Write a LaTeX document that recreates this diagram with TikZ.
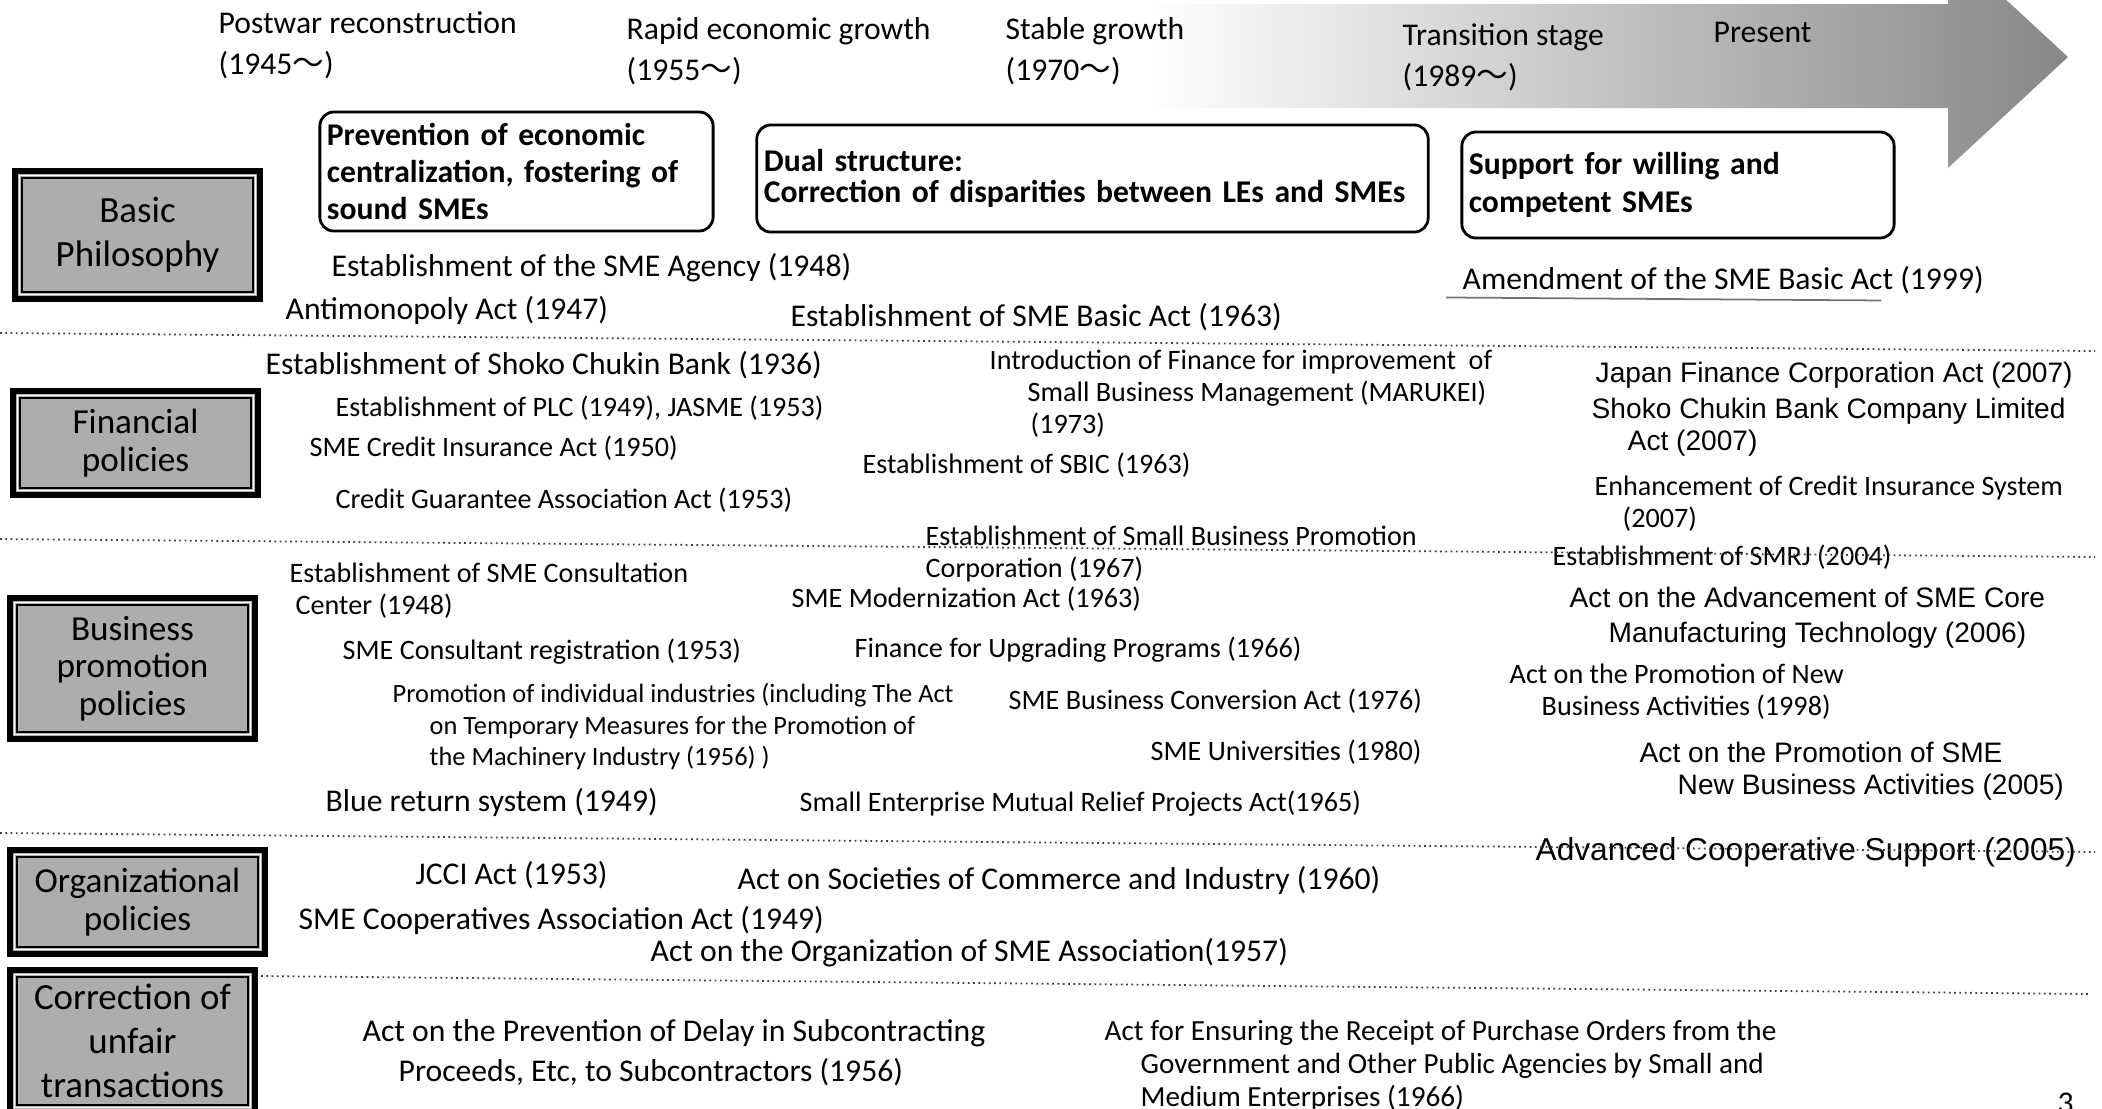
\documentclass[tikz,border=0pt]{standalone}
\usepackage{fontspec}
\setmainfont{Carlito}
\newfontfamily\arialfont{Liberation Sans}
\newfontfamily\cjkfont{Noto Sans CJK JP}
\newcommand{\wv}{{\cjkfont ～}}

\begin{document}
\begin{tikzpicture}[
    x=0.01cm, y=-0.01cm,
    era/.style={anchor=west, align=left, inner sep=0pt, font=\fontsize{9}{11.8}\selectfont},
    phil/.style={draw, line width=0.8pt, rounded corners=0.14cm, align=left, inner xsep=0.07cm,
        font=\bfseries\fontsize{9}{10.4}\selectfont},
    cat/.style={draw, line width=1.7pt, fill=black!32, align=center, inner sep=0pt,
        font=\fontsize{10}{10.6}\selectfont,
        path picture={
            \draw[white, line width=0.5pt] ([xshift=0.045cm,yshift=-0.045cm]path picture bounding box.north west)
                rectangle ([xshift=-0.045cm,yshift=0.045cm]path picture bounding box.south east);
            \draw[line width=0.5pt] ([xshift=0.07cm,yshift=-0.07cm]path picture bounding box.north west)
                rectangle ([xshift=-0.07cm,yshift=0.07cm]path picture bounding box.south east);
        }},
    act/.style={anchor=west, align=left, inner sep=0pt, font=\fontsize{9}{10.5}\selectfont},
    sact/.style={act, font=\fontsize{8}{9.1}\selectfont},
    arl/.style={act, font=\arialfont\fontsize{8}{9.1}\selectfont},
    sep/.style={densely dotted, line width=0.5pt, black!75}
]
    \useasboundingbox (0,0) rectangle (2102,1108);
    \clip (0,0) rectangle (2102,1108);
    \fill[white] (0,0) rectangle (2102,1108);
    % Time arrow
    \shade[left color=white, right color=black!47] (1150,4) -- (1948,4) -- (1948,-54) -- (2068,57)
        -- (1948,168) -- (1948,108) -- (1150,108) -- cycle;
    % Periods
    \node[era] (postwar) at (218,45) {Postwar reconstruction\\(1945\wv)};
    \node[era] (rapid) at (626,51) {Rapid economic growth\\(1955\wv)};
    \node[era] (stable) at (1005,51) {Stable growth\\(1970\wv)};
    \node[era] (trans) at (1402,57) {Transition stage\\(1989\wv)};
    \node[era] (present) at (1713,32) {Present};
    % Philosophy boxes
    \node[phil, minimum width=3.93cm, minimum height=1.13cm, text width=3.79cm] (phil1) at (516.5,171.5) {Prevention of economic\\centralization, fostering of\\sound SMEs};
    \node[phil, minimum width=6.71cm, minimum height=1.07cm, text width=6.57cm, font=\bfseries\fontsize{9}{8.8}\selectfont] (phil2) at (1092.5,178.5) {Dual structure:\\Correction of disparities between LEs and SMEs};
    \node[phil, minimum width=4.32cm, minimum height=1.06cm, text width=4.18cm, font=\bfseries\fontsize{9}{10.8}\selectfont] (phil3) at (1678,185) {Support for willing and\\competent SMEs};
    % Categories
    \node[cat, minimum width=2.45cm, minimum height=1.28cm, font=\fontsize{10.5}{12.6}\selectfont] (basic) at (137.5,235) {Basic\\Philosophy};
    \node[cat, minimum width=2.45cm, minimum height=1.04cm] (fin) at (135.5,443) {Financial\\policies};
    \node[cat, minimum width=2.45cm, minimum height=1.41cm] (bus) at (132.5,668.5) {Business\\promotion\\policies};
    \node[cat, minimum width=2.55cm, minimum height=1.04cm] (org) at (137.5,902) {Organizational\\policies};
    \node[cat, minimum width=2.45cm, minimum height=1.42cm, font=\fontsize{10.5}{12.6}\selectfont] (unfair) at (132.5,1041) {Correction of\\unfair\\transactions};
    % Basic philosophy
    \node[act] (agency) at (331,268) {Establishment of the SME Agency (1948)};
    \node[act] (antimono) at (285,310) {Antimonopoly Act (1947)};
    \node[act] (basicact) at (790,317) {Establishment of SME Basic Act (1963)};
    \node[act] (amend) at (1462,280) {Amendment of the SME Basic Act (1999)};
    \draw[line width=0.5pt, black!55] ([shift={(-16,3)}]amend.south west) -- ([shift={(-103,6)}]amend.south east);
    % Financial policies
    \node[act] (shoko) at (265,365) {Establishment of Shoko Chukin Bank (1936)};
    \node[sact] (plc) at (335,408) {Establishment of PLC (1949), JASME (1953)};
    \node[sact] (credins) at (309,448) {SME Credit Insurance Act (1950)};
    \node[sact] (cga) at (335,500) {Credit Guarantee Association Act (1953)};
    \node[sact] (marukei) at (989,394) {Introduction of Finance for improvement\ \ of\\\hspace*{0.38cm}Small Business Management (MARUKEI)\\\hspace*{0.41cm}(1973)};
    \node[sact] (sbic) at (862,465) {Establishment of SBIC (1963)};
    \node[sact] (sbpc) at (925,554) {Establishment of Small Business Promotion\\Corporation (1967)};
    \node[arl] (jfc) at (1595,375) {Japan Finance Corporation Act (2007)};
    \node[arl] (skbltd) at (1591,427.5) {Shoko Chukin Bank Company Limited\\\hspace*{0.36cm}Act (2007)};
    \node[sact] (enhance) at (1594,504) {Enhancement of Credit Insurance System\\\hspace*{0.28cm}(2007)};
    % Business promotion policies
    \node[sact] (consult) at (289,591) {Establishment of SME Consultation\\\hspace*{0.06cm}Center (1948)};
    \node[sact] (registr) at (342,652) {SME Consultant registration (1953)};
    \node[sact, font=\fontsize{7.5}{9}\selectfont] (indus) at (392,726.5) {Promotion of individual industries (including The Act\\\hspace*{0.37cm}on Temporary Measures for the Promotion of\\\hspace*{0.37cm}the Machinery Industry (1956) )};
    \node[act] (blue) at (325,802) {Blue return system (1949)};
    \node[sact] (modern) at (791,599) {SME Modernization Act (1963)};
    \node[sact] (upgrade) at (854,650) {Finance for Upgrading Programs (1966)};
    \node[sact] (convers) at (1008,701) {SME Business Conversion Act (1976)};
    \node[sact] (univ) at (1150,752) {SME Universities (1980)};
    \node[sact] (mutual) at (799,804) {Small Enterprise Mutual Relief Projects Act(1965)};
    \node[sact] (smrj) at (1552,557) {Establishment of SMRJ (2004)};
    \node[arl, font=\arialfont\fontsize{8}{10}\selectfont] (coretech) at (1569,617.5) {Act on the Advancement of SME Core\\\hspace*{0.39cm}Manufacturing Technology (2006)};
    \node[sact] (newbiz) at (1509,691.5) {Act on the Promotion of New\\\hspace*{0.32cm}Business Activities (1998)};
    \node[arl] (smenew) at (1639,771.5) {Act on the Promotion of SME\\\hspace*{0.38cm}New Business Activities (2005)};
    % Organizational policies
    \node[act] (jcci) at (415,875) {JCCI Act (1953)};
    \node[act] (societies) at (737,880) {Act on Societies of Commerce and Industry (1960)};
    \node[act] (coop) at (298,920) {SME Cooperatives Association Act (1949)};
    \node[act] (orgsme) at (650,953) {Act on the Organization of SME Association(1957)};
    \node[arl, font=\arialfont\fontsize{9}{10}\selectfont] (advcoop) at (1535,852) {Advanced Cooperative Support (2005)};
    % Correction of unfair transactions
    \node[act, font=\fontsize{9}{11.4}\selectfont] (delay) at (362,1053) {Act on the Prevention of Delay in Subcontracting\\\hspace*{0.36cm}Proceeds, Etc, to Subcontractors (1956)};
    \node[act, font=\fontsize{8.3}{9.4}\selectfont] (orders) at (1104,1066) {Act for Ensuring the Receipt of Purchase Orders from the\\\hspace*{0.36cm}Government and Other Public Agencies by Small and\\\hspace*{0.36cm}Medium Enterprises (1966)};
    \node[act] (pageno) at (2057,1103) {3};
    % Separators
    \draw[sep] (0,333) -- (2095,351);
    \draw[sep] (0,539) -- (2095,557);
    \draw[sep] (0,833) -- (2095,852);
    \draw[sep] (261,976) -- (2090,994);
\end{tikzpicture}
\end{document}
